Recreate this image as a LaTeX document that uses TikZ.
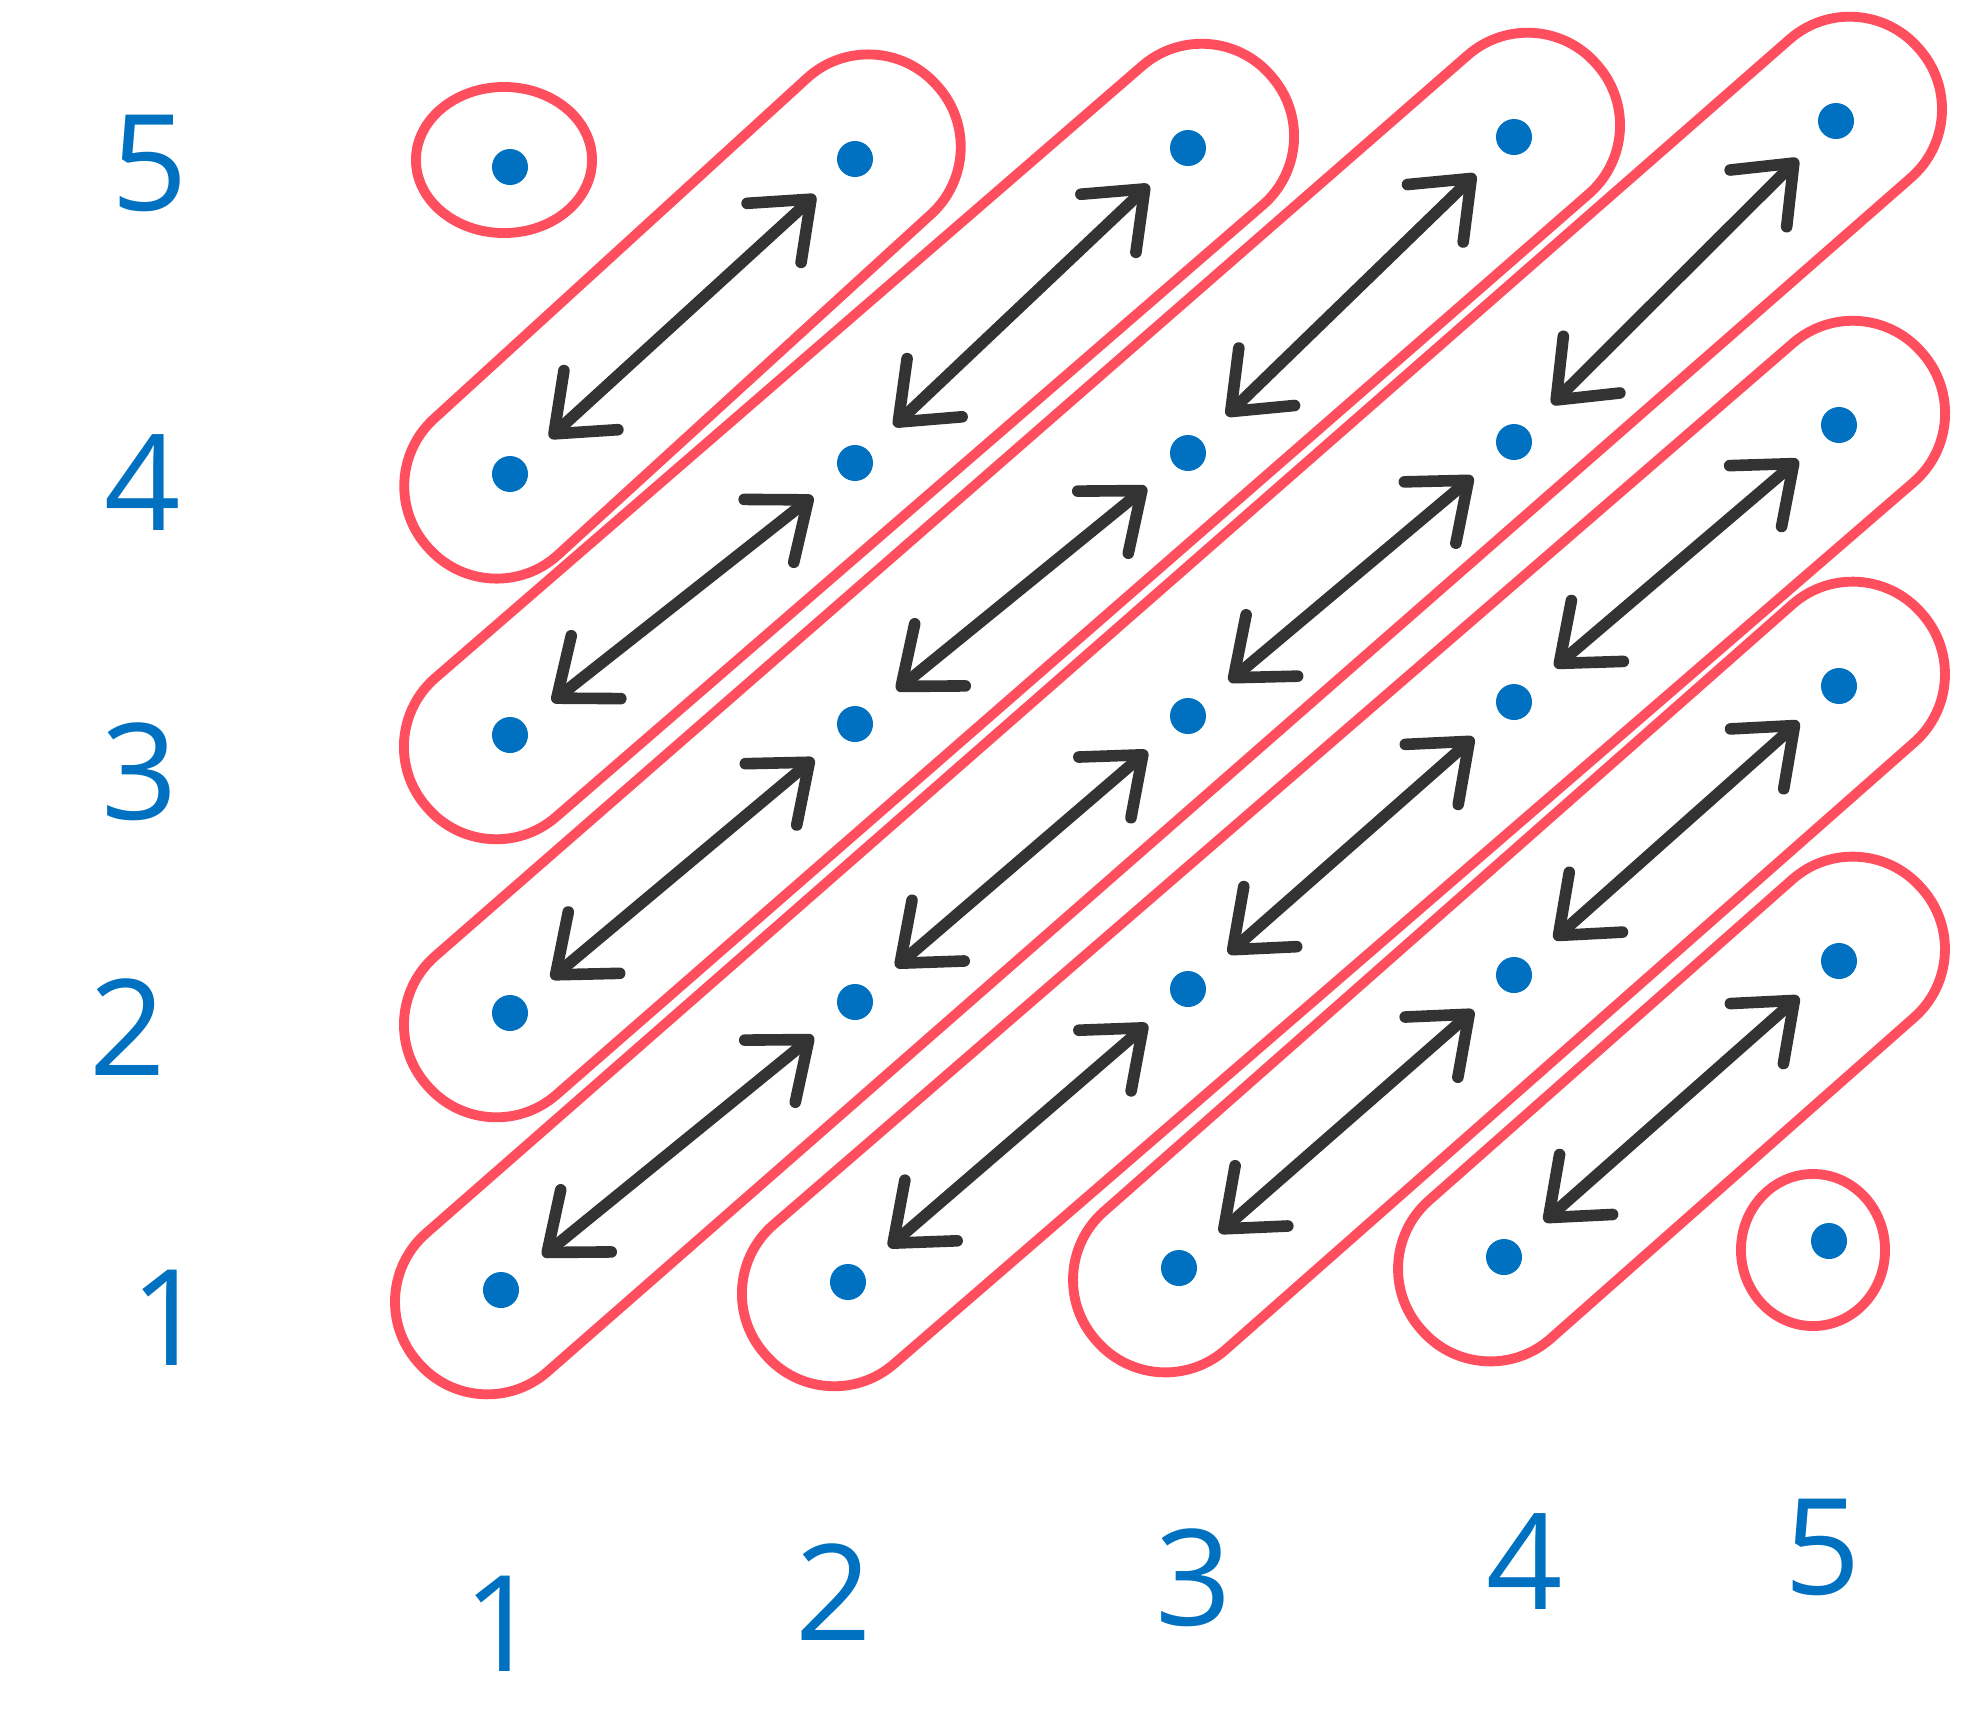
\documentclass[tikz,border=0pt]{standalone}
\usepackage{fontspec}
\setmainfont{Open Sans}
\usetikzlibrary{arrows.meta,calc,shapes.geometric}
\definecolor{loopred}{HTML}{FF4F5E}
\definecolor{dotblue}{HTML}{0070C0}
\definecolor{arrowgray}{HTML}{333333}
\newcommand{\lpad}{11mm}
\newcommand{\lhw}{9.2mm}
\newcommand{\diagloop}[2]{%
  \draw[diagloop]
    ($(#1.center)!-\lpad!(#2.center)!\lhw!90:(#2.center)$) --
    ($(#2.center)!-\lpad!(#1.center)!\lhw!-90:(#1.center)$) --
    ($(#2.center)!-\lpad!(#1.center)!\lhw!90:(#1.center)$) --
    ($(#1.center)!-\lpad!(#2.center)!\lhw!-90:(#2.center)$) -- cycle;}
\begin{document}
\begin{tikzpicture}[x=0.01cm,y=-0.01cm,
  dotnode/.style={circle,fill=dotblue,inner sep=0pt,minimum size=3.6mm},
  axislabel/.style={text=dotblue,font=\fontsize{38}{44}\selectfont,inner sep=0pt},
  diagloop/.style={draw=loopred,line width=2.8pt,rounded corners=9.1mm},
  singleloop/.style={draw=loopred,line width=2.8pt,ellipse,inner sep=0pt},
  pairarrow/.style={draw=arrowgray,line width=3.3pt,line cap=round,
     arrows={Straight Barb[length=5mm,width=8mm,round]-Straight Barb[length=5mm,width=8mm,round]},
     shorten <=3.5mm, shorten >=3.5mm}]
\useasboundingbox (0,0) rectangle (1978,1717);

% dots
\node[dotnode] (d15) at (510,167) {};
\node[dotnode] (d25) at (855,159) {};
\node[dotnode] (d35) at (1188,148) {};
\node[dotnode] (d45) at (1514,137) {};
\node[dotnode] (d55) at (1836,121) {};
\node[dotnode] (d14) at (510,474) {};
\node[dotnode] (d24) at (855,463) {};
\node[dotnode] (d34) at (1188,453) {};
\node[dotnode] (d44) at (1514,442) {};
\node[dotnode] (d54) at (1839,425) {};
\node[dotnode] (d13) at (510,735) {};
\node[dotnode] (d23) at (855,724) {};
\node[dotnode] (d33) at (1188,716) {};
\node[dotnode] (d43) at (1514,702) {};
\node[dotnode] (d53) at (1839,686) {};
\node[dotnode] (d12) at (510,1013) {};
\node[dotnode] (d22) at (855,1002) {};
\node[dotnode] (d32) at (1188,989) {};
\node[dotnode] (d42) at (1514,975) {};
\node[dotnode] (d52) at (1839,961) {};
\node[dotnode] (d11) at (501,1290) {};
\node[dotnode] (d21) at (848,1282) {};
\node[dotnode] (d31) at (1179,1268) {};
\node[dotnode] (d41) at (1504,1257) {};
\node[dotnode] (d51) at (1829,1241) {};

% loops
\node[singleloop, minimum width=17.6mm, minimum height=14.6mm] (s15) at ($(d15)+(-6,-7)$) {};
\diagloop{d14}{d25}
\diagloop{d13}{d35}
\diagloop{d12}{d45}
\diagloop{d11}{d55}
\diagloop{d21}{d54}
\diagloop{d31}{d53}
\diagloop{d41}{d52}
\node[singleloop, minimum width=14.4mm, minimum height=15.2mm] (s51) at ($(d51)+(-16,9)$) {};

% arrows
\foreach \i in {1,...,4}{\foreach \j in {1,...,4}{%
  \pgfmathtruncatemacro\ni{\i+1}\pgfmathtruncatemacro\nj{\j+1}%
  \draw[pairarrow] (d\i\j) -- (d\ni\nj);}}

% axis labels
\node[axislabel] (y5) at (150,163) {5};
\node[axislabel] (y4) at (143,483) {4};
\node[axislabel] (y3) at (140,772) {3};
\node[axislabel] (y2) at (128,1027) {2};
\node[axislabel] (y1) at (169,1318) {1};
\node[axislabel] (x1) at (502,1624) {1};
\node[axislabel] (x2) at (834,1592) {2};
\node[axislabel] (x3) at (1194,1578) {3};
\node[axislabel] (x4) at (1525,1562) {4};
\node[axislabel] (x5) at (1823,1547) {5};
\end{tikzpicture}
\end{document}
